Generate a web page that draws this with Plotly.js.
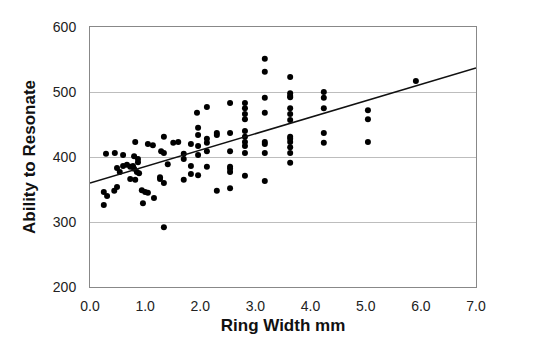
<!DOCTYPE html>
<html>
<head>
<meta charset="utf-8">
<script src="https://cdn.plot.ly/plotly-3.0.1.min.js"></script>
<style>html,body{margin:0;padding:0;background:#fff;}#chart{width:536px;height:360px;}</style>
</head>
<body>
<div id="chart"></div>
<script>
// Ring width (mm) and ability to resonate
const ringWidth = [
  0.25, 0.31, 0.25, 0.29, 0.45, 0.44, 0.49, 0.60, 0.80, 0.87, 0.87, 0.82, 1.05, 1.14,
  0.49, 0.54, 0.60, 0.67, 0.73, 0.78, 0.80, 0.85, 0.89, 0.73, 0.82,
  0.94, 1.00, 1.05, 0.96, 1.16,
  1.29, 1.34, 1.34, 1.51, 1.60, 1.83, 1.96, 1.96, 1.96, 1.94, 2.12,
  2.12, 2.12, 2.12, 2.30, 2.30, 2.30, 1.70, 1.70, 1.96, 1.41, 1.83,
  1.27, 1.27, 1.34, 1.83, 1.96, 2.12, 1.70, 1.34,
  2.54, 2.54, 2.54, 2.54, 2.54, 2.54, 2.54,
  2.81, 2.81, 2.81, 2.81, 2.81, 2.81, 2.81, 2.81, 2.81, 2.81,
  3.17, 3.17, 3.17, 3.17, 3.17, 3.17, 3.17, 3.17,
  3.63, 3.63, 3.63, 3.63, 3.63, 3.63, 3.63, 3.63, 3.63, 3.63, 3.63, 3.63, 3.63,
  4.24, 4.24, 4.24, 4.24, 4.24,
  5.04, 5.04, 5.04,
  5.91
];
const resonance = [
  346, 340, 326, 405, 406, 348, 354, 403, 401, 397, 392, 423, 420, 418,
  383, 377, 386, 388, 385, 386, 382, 377, 375, 366, 365,
  349, 346, 345, 329, 337,
  409, 406, 431, 422, 423, 420, 417, 445, 434, 468, 477,
  428, 422, 409, 437, 434, 348, 405, 397, 403, 389, 386,
  369, 366, 360, 374, 372, 385, 365, 292,
  483, 437, 409, 385, 382, 377, 352,
  483, 475, 466, 458, 440, 431, 423, 417, 406, 371,
  551, 531, 491, 468, 423, 420, 406, 363,
  523, 498, 494, 492, 475, 466, 457, 431, 428, 423, 415, 406, 391,
  500, 491, 475, 437, 422,
  472, 458, 423,
  517
];
// Trend line end values
const trendX = [0, 7];
const trendY = [360, 537];
const yTicks = [200, 300, 400, 500, 600];
const xTicks = [0, 1, 2, 3, 4, 5, 6, 7];
const xTickText = ['0.0', '1.0', '2.0', '3.0', '4.0', '5.0', '6.0', '7.0'];

const font = 'Liberation Sans, Arial, sans-serif';
Plotly.newPlot('chart', [
  {
    x: ringWidth, y: resonance, type: 'scatter', mode: 'markers',
    marker: {color: '#000', size: 6}, hoverinfo: 'x+y'
  },
  {
    x: trendX, y: trendY, type: 'scatter', mode: 'lines',
    line: {color: '#111', width: 1.6}, hoverinfo: 'skip'
  }
], {
  width: 536, height: 360,
  margin: {l: 90, r: 60, t: 27, b: 73},
  paper_bgcolor: '#fff', plot_bgcolor: '#fff',
  showlegend: false,
  font: {family: font, color: '#222', size: 14},
  xaxis: {
    range: [0, 7], tickvals: xTicks, ticktext: xTickText,
    showgrid: false, zeroline: false,
    showline: true, linecolor: '#888', linewidth: 1, mirror: true,
    ticks: 'outside', ticklen: 6, tickcolor: 'rgba(0,0,0,0)',
    tickfont: {family: font, size: 14, color: '#222'},
    title: {text: '<b>Ring Width mm</b>', font: {family: font, size: 17, color: '#111'}, standoff: 6}
  },
  yaxis: {
    range: [200, 600], tickvals: yTicks,
    showgrid: true, gridcolor: '#bdbdbd', gridwidth: 1, zeroline: false,
    showline: true, linecolor: '#888', linewidth: 1, mirror: true,
    ticks: 'outside', ticklen: 10, tickcolor: 'rgba(0,0,0,0)',
    tickfont: {family: font, size: 14, color: '#222'},
    title: {text: '<b>Ability to Resonate</b>', font: {family: font, size: 17, color: '#111'}, standoff: 12}
  }
}, {displayModeBar: false, staticPlot: true});
</script>
</body>
</html>
